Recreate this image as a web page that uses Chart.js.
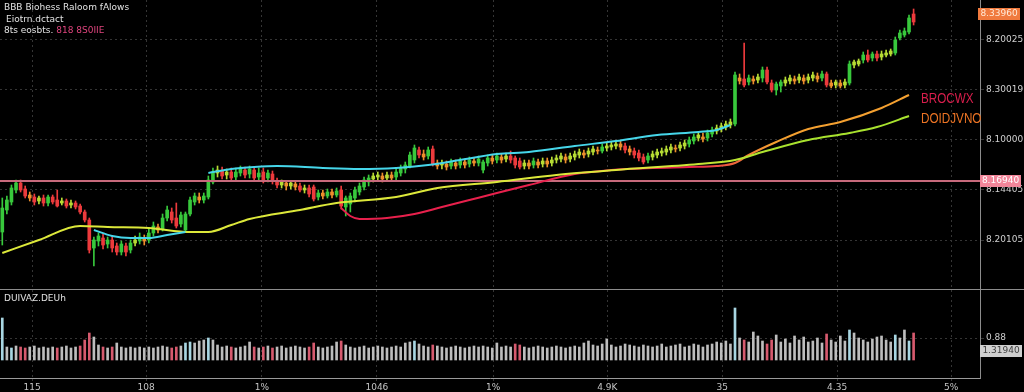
<!DOCTYPE html>
<html>
<head>
<meta charset="utf-8">
<script src="https://cdn.jsdelivr.net/npm/chart.js@4.4.1/dist/chart.umd.min.js"></script>
<style>
  html, body { margin: 0; padding: 0; background: #000; }
  #wrap { width: 1024px; height: 392px; }
</style>
</head>
<body>
<div id="wrap"><canvas id="chart" width="1024" height="392"></canvas></div>
<script>
// candles (oldest first)
const opens = [
8.118,8.140,8.148,8.160,8.167,8.161,8.155,8.153,8.149,8.152,
8.147,8.153,8.150,8.147,8.149,8.145,8.147,8.144,8.138,8.130,
8.102,8.109,8.112,8.106,8.110,8.104,8.098,8.104,8.100,8.107,
8.109,8.112,8.110,8.117,8.123,8.121,8.132,8.138,8.132,8.126,
8.120,8.136,8.148,8.153,8.150,8.153,8.168,8.177,8.179,8.175,
8.178,8.173,8.177,8.180,8.176,8.180,8.173,8.178,8.172,8.176,
8.169,8.165,8.167,8.164,8.166,8.164,8.160,8.162,8.163,8.153,
8.157,8.154,8.158,8.155,8.160,8.143,8.146,8.152,8.158,8.163,
8.168,8.171,8.173,8.174,8.172,8.175,8.173,8.177,8.181,8.184,
8.190,8.200,8.196,8.194,8.201,8.187,8.185,8.186,8.184,8.187,
8.185,8.188,8.186,8.189,8.187,8.180,8.187,8.192,8.190,8.193,
8.191,8.194,8.192,8.189,8.184,8.187,8.185,8.188,8.186,8.189,
8.187,8.190,8.191,8.193,8.191,8.193,8.195,8.197,8.196,8.198,
8.200,8.199,8.202,8.203,8.204,8.206,8.204,8.201,8.199,8.197,
8.193,8.190,8.193,8.195,8.197,8.198,8.200,8.202,8.202,8.204,
8.206,8.209,8.212,8.213,8.212,8.216,8.219,8.221,8.223,8.225,
8.226,8.272,8.271,8.268,8.271,8.270,8.272,8.280,8.267,8.260,
8.264,8.267,8.269,8.271,8.270,8.272,8.270,8.272,8.274,8.272,
8.276,8.267,8.265,8.267,8.265,8.267,8.285,8.286,8.290,8.295,
8.292,8.296,8.293,8.295,8.296,8.297,8.312,8.315,8.318,8.336];

const closes = [
8.142,8.150,8.162,8.167,8.160,8.154,8.152,8.148,8.152,8.147,
8.153,8.148,8.144,8.149,8.144,8.147,8.143,8.138,8.130,8.100,
8.110,8.114,8.105,8.110,8.102,8.098,8.106,8.098,8.107,8.110,
8.113,8.109,8.117,8.124,8.120,8.132,8.140,8.130,8.124,8.135,
8.136,8.150,8.154,8.150,8.154,8.170,8.178,8.180,8.174,8.178,
8.172,8.178,8.181,8.175,8.181,8.172,8.177,8.170,8.177,8.169,
8.165,8.168,8.164,8.167,8.163,8.160,8.162,8.156,8.151,8.157,
8.154,8.158,8.155,8.159,8.144,8.152,8.154,8.160,8.164,8.170,
8.172,8.174,8.175,8.171,8.175,8.172,8.178,8.182,8.185,8.195,
8.202,8.195,8.193,8.200,8.186,8.184,8.187,8.183,8.188,8.184,
8.189,8.185,8.190,8.187,8.191,8.188,8.192,8.189,8.194,8.190,
8.194,8.190,8.185,8.183,8.187,8.184,8.189,8.185,8.189,8.186,
8.190,8.192,8.194,8.190,8.194,8.196,8.198,8.195,8.199,8.201,
8.199,8.203,8.204,8.205,8.206,8.203,8.200,8.198,8.195,8.192,
8.188,8.194,8.196,8.198,8.199,8.201,8.203,8.201,8.205,8.207,
8.210,8.213,8.215,8.211,8.217,8.220,8.222,8.224,8.226,8.228,
8.275,8.269,8.265,8.272,8.269,8.273,8.280,8.268,8.260,8.266,
8.268,8.270,8.272,8.269,8.273,8.269,8.273,8.275,8.271,8.276,
8.265,8.264,8.268,8.264,8.268,8.286,8.288,8.289,8.295,8.290,
8.296,8.292,8.296,8.297,8.299,8.310,8.317,8.319,8.332,8.328];

const highs = [
8.152,8.154,8.165,8.170,8.170,8.164,8.158,8.156,8.154,8.155,
8.155,8.155,8.160,8.152,8.151,8.150,8.149,8.146,8.140,8.132,
8.113,8.117,8.116,8.113,8.114,8.107,8.109,8.107,8.110,8.114,
8.117,8.115,8.121,8.128,8.126,8.136,8.144,8.142,8.147,8.138,
8.138,8.153,8.157,8.157,8.157,8.174,8.182,8.184,8.183,8.181,
8.182,8.182,8.184,8.183,8.184,8.183,8.182,8.182,8.180,8.179,
8.172,8.170,8.169,8.169,8.169,8.167,8.165,8.165,8.165,8.160,
8.160,8.161,8.161,8.162,8.164,8.154,8.157,8.163,8.167,8.173,
8.175,8.177,8.178,8.177,8.178,8.178,8.181,8.185,8.188,8.198,
8.205,8.203,8.200,8.203,8.204,8.190,8.190,8.189,8.191,8.190,
8.192,8.191,8.193,8.192,8.194,8.190,8.195,8.195,8.197,8.196,
8.197,8.199,8.194,8.192,8.190,8.190,8.192,8.191,8.192,8.192,
8.193,8.195,8.197,8.196,8.197,8.199,8.201,8.200,8.202,8.204,
8.203,8.206,8.207,8.208,8.209,8.209,8.207,8.204,8.202,8.200,
8.196,8.197,8.199,8.201,8.202,8.204,8.206,8.205,8.208,8.210,
8.213,8.216,8.218,8.217,8.220,8.223,8.225,8.227,8.229,8.231,
8.278,8.276,8.307,8.275,8.274,8.276,8.283,8.283,8.270,8.268,
8.270,8.273,8.275,8.274,8.276,8.275,8.276,8.278,8.277,8.279,
8.278,8.270,8.270,8.270,8.271,8.289,8.290,8.291,8.298,8.300,
8.298,8.299,8.299,8.300,8.301,8.313,8.320,8.322,8.335,8.341];

const lows = [
8.105,8.136,8.145,8.157,8.158,8.152,8.149,8.145,8.146,8.144,
8.144,8.146,8.143,8.145,8.142,8.142,8.141,8.136,8.128,8.097,
8.084,8.104,8.101,8.102,8.098,8.095,8.095,8.094,8.097,8.104,
8.106,8.105,8.107,8.114,8.117,8.119,8.129,8.127,8.122,8.123,
8.118,8.134,8.145,8.147,8.147,8.151,8.166,8.173,8.171,8.171,
8.169,8.170,8.174,8.172,8.172,8.169,8.170,8.167,8.168,8.166,
8.162,8.162,8.160,8.161,8.160,8.158,8.157,8.153,8.149,8.150,
8.151,8.152,8.152,8.153,8.141,8.134,8.138,8.148,8.155,8.160,
8.164,8.168,8.170,8.168,8.169,8.169,8.170,8.174,8.177,8.182,
8.187,8.192,8.190,8.191,8.184,8.181,8.181,8.180,8.181,8.181,
8.182,8.182,8.183,8.184,8.184,8.177,8.184,8.186,8.187,8.187,
8.188,8.187,8.182,8.181,8.181,8.181,8.182,8.182,8.183,8.183,
8.184,8.187,8.188,8.187,8.188,8.190,8.192,8.192,8.193,8.195,
8.196,8.197,8.199,8.200,8.201,8.200,8.197,8.195,8.192,8.189,
8.186,8.187,8.190,8.192,8.194,8.195,8.197,8.198,8.199,8.201,
8.203,8.206,8.209,8.208,8.209,8.213,8.216,8.218,8.220,8.222,
8.224,8.266,8.263,8.265,8.266,8.267,8.268,8.266,8.258,8.255,
8.258,8.264,8.266,8.266,8.267,8.266,8.267,8.269,8.268,8.269,
8.263,8.262,8.262,8.262,8.262,8.265,8.282,8.284,8.287,8.288,
8.289,8.289,8.290,8.293,8.294,8.295,8.310,8.313,8.316,8.325];

// volume, millions
const volumes = [
4.2,1.3,1.2,1.4,1.3,1.2,1.3,1.4,1.2,1.3,
1.2,1.3,1.2,1.3,1.4,1.2,1.3,1.4,2.0,2.7,
2.3,1.5,1.3,1.2,1.3,1.7,1.3,1.2,1.3,1.2,
1.3,1.2,1.3,1.2,1.3,1.4,1.3,1.2,1.3,1.4,
1.7,1.8,1.7,1.9,2.0,2.2,2.0,1.5,1.3,1.4,
1.3,1.2,1.3,1.4,1.8,1.3,1.2,1.3,1.4,1.2,
1.3,1.4,1.2,1.3,1.4,1.3,1.2,1.3,1.7,1.3,
1.2,1.3,1.4,1.8,1.9,1.5,1.3,1.2,1.3,1.4,
1.2,1.3,1.4,1.3,1.2,1.3,1.4,1.3,1.7,1.8,
1.9,1.6,1.4,1.3,1.5,1.4,1.3,1.2,1.3,1.4,
1.3,1.2,1.3,1.4,1.3,1.4,1.3,1.2,1.7,1.3,
1.4,1.3,1.6,1.5,1.3,1.2,1.3,1.4,1.3,1.2,
1.3,1.4,1.3,1.2,1.3,1.4,1.3,1.7,1.9,1.5,
1.4,1.6,2.1,1.5,1.3,1.4,1.6,1.5,1.4,1.3,
1.5,1.4,1.3,1.4,1.6,1.3,1.4,1.5,1.6,1.3,
1.4,1.6,1.5,1.3,1.5,1.6,1.8,1.7,1.9,1.6,
5.2,2.2,2.0,1.8,2.8,2.4,1.9,1.6,2.0,2.5,
1.8,2.1,1.7,2.4,2.0,2.3,1.8,1.9,2.2,1.7,
2.6,2.0,1.8,2.4,1.9,3.0,2.7,2.2,2.0,1.8,
2.1,2.3,2.4,2.0,1.8,2.5,2.2,3.0,1.9,2.7];

// moving averages, sampled at candle index
const cyanIdx = [20,24,28,32,36,40,42,45,50,55,60,70,78,86,93,100,108,115,125,134,143,152,156,159];
const cyanVal = [8.120,8.114,8.112,8.112,8.115,8.118,null,8.177,8.181,8.183,8.184,8.182,8.181,8.182,8.185,8.190,8.196,8.198,8.204,8.209,8.215,8.218,8.220,8.225];
const yellowIdx = [0,8,17,23,32,41,45,50,54,65,73,86,95,108,121,134,152,160,166,176,185,191,198];
const yellowVal = [8.097,8.110,8.124,8.123,8.122,8.118,8.118,8.125,8.131,8.140,8.147,8.153,8.162,8.168,8.175,8.180,8.186,8.190,8.198,8.210,8.217,8.223,8.234];
const redIdx = [74,76,78,84,90,96,102,108,115,125,133,142,150,156,160,163,169,176,183,192,198];
const redVal = [8.142,8.134,8.131,8.132,8.136,8.143,8.150,8.157,8.165,8.176,8.180,8.182,8.183,8.184,8.187,8.195,8.208,8.221,8.228,8.242,8.255];

const refLevel = 8.169;
const lastTag = 8.336;

const priceTicks = [8.11, 8.16, 8.21, 8.26, 8.31];
const priceTickLabels = ['8.20105', '8.14405', '8.10000', '8.30019', '8.20025'];
const volTicks = [2.2];
const volTickLabels = ['0.88'];
const xTickIdx = [6.5, 31.4, 56.7, 81.8, 107.2, 132.1, 157.2, 182.3, 207.2];
const xTickLabels = ['115', '108', '1%', '1046', '1%', '4.9K', '35', '4.35', '5%'];

const maNames = ['BROCWX', 'DOIDJVNO'];

function candleColor(i) {
    const d = closes[i] - opens[i];
    if (d >= 0.0035) return '#38c83c';
    if (d > 0.0001) return '#b6dc34';
    if (d > -0.0035) return '#ee8e2c';
    return '#ec3a3c';
}

function volColor(i) {
    const d = closes[i] - opens[i];
    if (d <= -0.006) return '#d65a6e';
    if (d >= 0.012) return '#a8d6e2';
    return '#bdbdbd';
}

function hGradient(ctx, stops) {
    const chart = ctx.chart;
    const area = chart.chartArea;
    if (!area) return stops[0][1];
    const xs = chart.scales.x;
    const g = chart.ctx.createLinearGradient(area.left, 0, area.right, 0);
    stops.forEach(([i, c]) => {
        const t = (xs.getPixelForValue(i) - area.left) / area.width;
        g.addColorStop(Math.min(Math.max(t, 0), 1), c);
    });
    return g;
}

const pts = (idx, vals) => idx.map((x, k) => ({ x: x, y: vals[k] }));

const bodyData = closes.map((c, i) => ({ x: i, y: [opens[i], c] }));
const wickData = closes.map((c, i) => ({ x: i, y: [lows[i], highs[i]] }));
const volData = volumes.map((v, i) => ({ x: i, y: v }));

// drop the label padding so the panels fill the canvas edge to edge
function noPadding(s) {
    s.paddingTop = 0;
    s.paddingBottom = 0;
}

const overlay = {
    id: 'overlay',
    afterDraw(chart) {
        const c = chart.ctx;
        const a = chart.chartArea;
        const y = chart.scales.y;
        const yv = chart.scales.yv;
        c.save();

        // panel separator
        c.strokeStyle = '#8c8c8c';
        c.lineWidth = 1;
        c.beginPath();
        c.moveTo(0, Math.round(yv.top) + 0.5);
        c.lineTo(chart.width, Math.round(yv.top) + 0.5);
        c.stroke();

        // header text
        c.font = '9px "DejaVu Sans", sans-serif';
        c.textBaseline = 'middle';
        c.textAlign = 'left';
        c.fillStyle = '#e2e2e2';
        c.fillText('BBB Biohess Raloom fAlows', 4, 8);
        c.fillText('Eiotrn.dctact', 6, 20);
        c.fillText('8ts eosbts.', 4, 31);
        const w = c.measureText('8ts eosbts. ').width;
        c.fillStyle = '#e0457e';
        c.fillText('818 8S0IIE', 4 + w, 31);

        c.fillStyle = '#e2e2e2';
        c.fillText('DUIVAZ.DEUh', 4, yv.top + 10);

        // MA names at line ends
        c.font = '15px "Liberation Sans", sans-serif';
        c.save();
        c.translate(921, 99);
        c.scale(0.78, 1);
        c.fillStyle = '#d81e4c';
        c.fillText(maNames[0], 0, 0);
        c.restore();
        c.save();
        c.translate(921, 119);
        c.scale(0.78, 1);
        c.fillStyle = '#ec7424';
        c.fillText(maNames[1], 0, 0);
        c.restore();

        // value tags on the axis
        c.font = '9px "DejaVu Sans", sans-serif';
        const tag = (x, cy, w, text, bg, fg) => {
            c.fillStyle = bg;
            c.fillRect(x, Math.round(cy) - 6, w, 12);
            c.fillStyle = fg;
            c.textAlign = 'center';
            c.fillText(text, x + w / 2, Math.round(cy));
        };
        tag(a.right - 2, y.getPixelForValue(lastTag), 42, '8.33960', '#f07a3e', '#ffe9d6');
        tag(a.right, y.getPixelForValue(refLevel), 41, '8.16940', '#f2869a', '#ffffff');
        tag(a.right, yv.getPixelForValue(0.9), 42, '1.31940', '#cfcfcf', '#404040');

        c.restore();
    }
};

const gridCommon = { color: '#353535', tickLength: 4, lineWidth: 1 };
const borderCommon = { color: '#8c8c8c', dash: [2, 3] };

new Chart(document.getElementById('chart'), {
    type: 'bar',
    data: {
        datasets: [
            {
                type: 'line', data: [{ x: -0.5, y: refLevel }, { x: 213.5, y: refLevel }],
                borderColor: '#c86a7c', borderWidth: 2, pointRadius: 0, order: 1
            },
            {
                type: 'line', data: pts(cyanIdx, cyanVal), borderColor: '#46d6ea',
                borderWidth: 2, pointRadius: 0, spanGaps: false,
                cubicInterpolationMode: 'monotone', order: 0
            },
            {
                type: 'line', data: pts(yellowIdx, yellowVal),
                borderColor: ctx => hGradient(ctx, [[140, '#dce83a'], [170, '#a8e22e']]),
                borderWidth: 2, pointRadius: 0, cubicInterpolationMode: 'monotone', order: 0
            },
            {
                type: 'line', data: pts(redIdx, redVal),
                borderColor: ctx => hGradient(ctx, [[150, '#e8204c'], [168, '#f4a030']]),
                borderWidth: 2, pointRadius: 0, cubicInterpolationMode: 'monotone', order: 0
            },
            {
                data: bodyData, backgroundColor: closes.map((c, i) => candleColor(i)),
                barThickness: 3, minBarLength: 1, grouped: false, order: 2
            },
            {
                data: wickData, backgroundColor: closes.map((c, i) => candleColor(i)),
                barThickness: 1, grouped: false, order: 3
            },
            {
                data: volData, yAxisID: 'yv', backgroundColor: closes.map((c, i) => volColor(i)),
                barThickness: 2, grouped: false, order: 4
            }
        ]
    },
    options: {
        responsive: false,
        animation: false,
        layout: { padding: 0 },
        plugins: { legend: { display: false }, tooltip: { enabled: false } },
        scales: {
            x: {
                type: 'linear', min: -0.5, max: 213.5, offset: false,
                grid: { ...gridCommon, tickLength: 3, offset: false },
                border: { color: '#9a9a9a', dash: [2, 3] },
                afterBuildTicks: s => { s.ticks = xTickIdx.map(v => ({ value: v })); },
                afterFit: s => { s.height = 14; s.paddingLeft = 0; s.paddingRight = 0; },
                ticks: {
                    color: '#c4c4c4', font: { size: 9, family: 'DejaVu Sans' },
                    padding: 1, maxRotation: 0, autoSkip: false,
                    callback: (v, i) => xTickLabels[i]
                }
            },
            y: {
                type: 'linear', position: 'right', stack: 'panels', stackWeight: 289,
                min: 8.061, max: 8.350,
                grid: gridCommon,
                border: borderCommon,
                afterBuildTicks: s => { s.ticks = priceTicks.map(v => ({ value: v })); },
                afterFit: s => { s.width = 44; noPadding(s); },
                ticks: {
                    color: '#cfcfcf', font: { size: 9, family: 'DejaVu Sans' }, padding: 2,
                    callback: (v, i) => priceTickLabels[i]
                }
            },
            yv: {
                type: 'linear', position: 'right', stack: 'panels', stackWeight: 89,
                min: -1.8, max: 7.1,
                grid: gridCommon,
                border: borderCommon,
                afterBuildTicks: s => { s.ticks = volTicks.map(v => ({ value: v })); },
                afterFit: s => { s.width = 44; noPadding(s); },
                ticks: {
                    color: '#cfcfcf', font: { size: 9, family: 'DejaVu Sans' }, padding: 2,
                    callback: (v, i) => volTickLabels[i]
                }
            }
        }
    },
    plugins: [overlay]
});
</script>
</body>
</html>
